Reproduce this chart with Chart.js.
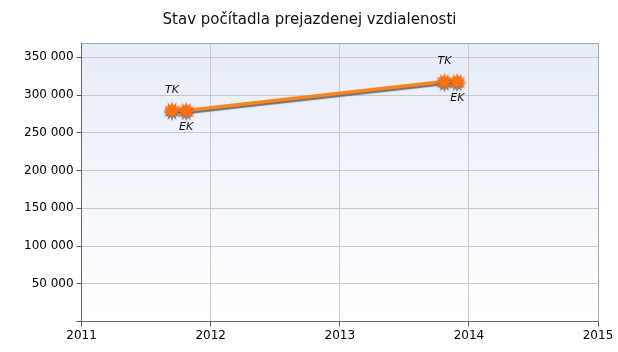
<!DOCTYPE html>
<html>
<head>
<meta charset="utf-8">
<script src="https://cdn.jsdelivr.net/npm/chart.js@4.4.1/dist/chart.umd.min.js"></script>
<style>
  html, body { margin: 0; padding: 0; background: #fff; }
  #wrap { width: 618px; height: 352px; }
</style>
</head>
<body>
<div id="wrap"><canvas id="odoChart" width="618" height="352"></canvas></div>
<script>
/*=========================================
DATA
=========================================*/

const checkDates = [2011.70, 2011.81, 2013.81, 2013.91];

const checkKm = [280000, 279500, 318000, 318000];

const checkTypes = ["TK", "EK", "TK", "EK"];

const yearTicks = [2011, 2012, 2013, 2014, 2015];

const kmTicks = [0, 50000, 100000, 150000, 200000, 250000, 300000, 350000];

const titleText = "Stav počítadla prejazdenej vzdialenosti";

/*=========================================
MARKER
=========================================*/

function makeBurst() {
  const c = document.createElement("canvas");
  c.width = 20;
  c.height = 20;
  const g = c.getContext("2d");
  const spikes = 12;
  g.beginPath();
  for (let i = 0; i < spikes * 2; i++) {
    const r = i % 2 === 0 ? 9 : 5;
    const a = (Math.PI * i) / spikes;
    g.lineTo(10 + r * Math.cos(a), 10 + r * Math.sin(a));
  }
  g.closePath();
  g.fillStyle = "#ff7010";
  g.fill();
  return c;
}

const burst = makeBurst();

/*=========================================
PLUGINS
=========================================*/

const plotBackground = {
  id: "plotBackground",
  beforeDraw(chart) {
    const { ctx, chartArea: a } = chart;
    const grad = ctx.createLinearGradient(0, a.top, 0, a.bottom);
    grad.addColorStop(0, "#e6ecf7");
    grad.addColorStop(1, "#ffffff");
    ctx.save();
    ctx.fillStyle = grad;
    ctx.fillRect(a.left, a.top, a.right - a.left, a.bottom - a.top);
    ctx.restore();
  },
  afterDraw(chart) {
    const { ctx, chartArea: a } = chart;
    ctx.save();
    ctx.strokeStyle = "#a8a8a8";
    ctx.lineWidth = 1;
    ctx.beginPath();
    ctx.moveTo(a.left, a.top + 0.5);
    ctx.lineTo(a.right + 0.5, a.top + 0.5);
    ctx.lineTo(a.right + 0.5, a.bottom);
    ctx.stroke();
    ctx.restore();
  }
};

const lineShadow = {
  id: "lineShadow",
  beforeDatasetDraw(chart) {
    const ctx = chart.ctx;
    ctx.save();
    ctx.shadowColor = "rgba(100,100,100,0.9)";
    ctx.shadowOffsetX = 0;
    ctx.shadowOffsetY = 2;
    ctx.shadowBlur = 1;
  },
  afterDatasetDraw(chart) {
    chart.ctx.restore();
  }
};

const pointLabels = {
  id: "pointLabels",
  afterDatasetsDraw(chart) {
    const { ctx } = chart;
    const meta = chart.getDatasetMeta(0);
    ctx.save();
    ctx.font = "italic 11px 'DejaVu Sans', sans-serif";
    ctx.fillStyle = "#111";
    ctx.textAlign = "center";
    ctx.textBaseline = "middle";
    meta.data.forEach((pt, i) => {
      const dy = checkTypes[i] === "TK" ? -20 : 17;
      ctx.fillText(checkTypes[i], pt.x, pt.y + dy);
    });
    ctx.restore();
  }
};

/*=========================================
CHART
=========================================*/

const fmt = v => String(v).replace(/\B(?=(\d{3})+(?!\d))/g, " ");

new Chart(document.getElementById("odoChart"), {

  type: "line",

  data: {
    datasets: [{
      data: checkDates.map((d, i) => ({ x: d, y: checkKm[i] })),
      borderColor: "#f7861f",
      borderWidth: 3.5,
      pointStyle: burst,
      pointRadius: 10,
      pointHoverRadius: 10,
      tension: 0,
      fill: false
    }]
  },

  options: {
    responsive: false,
    animation: false,
    events: [],
    layout: {
      padding: { left: 21, right: 20, top: 0, bottom: 7 }
    },
    plugins: {
      legend: { display: false },
      tooltip: { enabled: false },
      title: {
        display: true,
        text: titleText,
        color: "#111",
        font: { family: "'DejaVu Sans', sans-serif", size: 15, weight: "normal" },
        padding: { top: 11, bottom: 14 }
      }
    },
    scales: {
      x: {
        type: "linear",
        min: 2011,
        max: 2015,
        afterBuildTicks: axis => {
          axis.ticks = yearTicks.map(v => ({ value: v }));
        },
        ticks: {
          color: "#000",
          font: { family: "'DejaVu Sans', sans-serif", size: 12 },
          maxRotation: 0,
          padding: 2,
          callback: v => String(v)
        },
        grid: {
          color: "#c8c8c8",
          tickColor: "#555",
          tickLength: 5
        },
        border: { color: "#666", width: 1 }
      },
      y: {
        min: 0,
        max: 369000,
        afterBuildTicks: axis => {
          axis.ticks = kmTicks.map(v => ({ value: v }));
        },
        ticks: {
          color: "#000",
          font: { family: "'DejaVu Sans', sans-serif", size: 12 },
          padding: 3,
          callback: v => (v === 0 ? "" : fmt(v))
        },
        grid: {
          color: "#c8c8c8",
          tickColor: "#555",
          tickLength: 5
        },
        border: { color: "#666", width: 1 }
      }
    }
  },

  plugins: [plotBackground, lineShadow, pointLabels]

});
</script>
</body>
</html>
